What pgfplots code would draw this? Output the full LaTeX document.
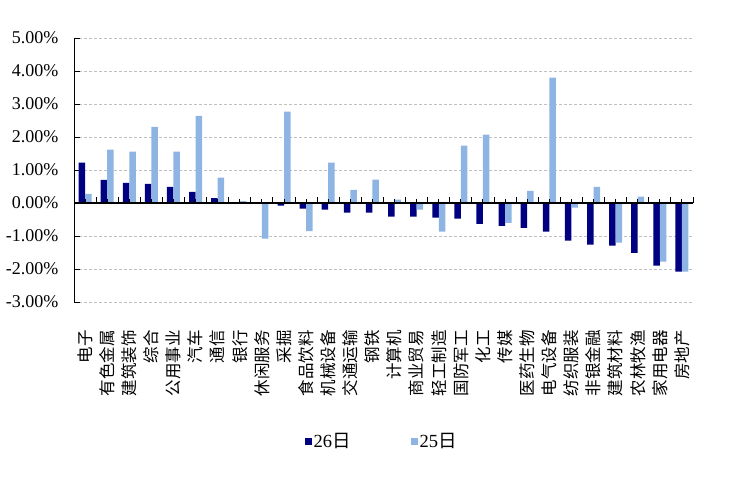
\documentclass[border=0pt]{standalone}
\usepackage{fontspec}
\setmainfont{Liberation Serif}
\newfontfamily\cjk{Noto Sans CJK SC}
\usepackage{pgfplots}
\usepackage{pgfplotstable}
\pgfplotsset{compat=1.18}
\definecolor{navy}{RGB}{0,0,128}
\definecolor{lblue}{RGB}{141,180,226}
\definecolor{gridgray}{RGB}{192,192,192}
\pgfplotstableread{
x d l
1 1.22 0.28
2 0.70 1.62
3 0.61 1.56
4 0.58 2.31
5 0.49 1.56
6 0.34 2.64
7 0.15 0.77
8 0.03 0.06
9 0.03 -1.08
10 -0.08 2.77
11 -0.17 -0.85
12 -0.20 1.22
13 -0.29 0.40
14 -0.29 0.71
15 -0.41 0.10
16 -0.41 -0.20
17 -0.44 -0.87
18 -0.47 1.74
19 -0.63 2.07
20 -0.69 -0.60
21 -0.75 0.37
22 -0.87 3.80
23 -1.14 -0.14
24 -1.26 0.49
25 -1.29 -1.20
26 -1.51 0.19
27 -1.90 -1.78
28 -2.08 -2.08
}\data
\begin{document}
\begin{tikzpicture}
\path[use as bounding box] (0,0) rectangle (735pt,480pt);
\begin{axis}[
  at={(74pt,178pt)}, anchor=south west,
  scale only axis, width=619pt, height=264pt,
  xmin=0.5, xmax=28.5, ymin=-3, ymax=5,
  axis x line=none,
  axis y line*=left,
  y axis line style={black, line width=1pt, -},
  ytick={-3,-2,-1,0,1,2,3,4,5},
  yticklabel={\pgfmathprintnumber[fixed,fixed zerofill,precision=2]{\tick}\%},
  /pgf/number format/assume math mode=true,
  yticklabel style={font=\fontsize{18}{18}\selectfont, xshift=-12pt},
  ytick style={black, line width=1pt},
  tick align=inside, major tick length=6pt,
  ymajorgrids,
  major grid style={gridgray, dash pattern=on 3pt off 2pt, line width=0.8pt},
  xtick=\empty,
  clip=false,
  unbounded coords=jump,
  legend columns=2,
  legend style={at={(0.497,-0.527)}, anchor=center, draw=none, fill=none,
    font=\fontsize{18.5}{18.5}\selectfont,
    /tikz/every even column/.append style={column sep=58pt},
    inner sep=0pt, row sep=0pt},
  legend cell align=left,
]
\addplot[ybar, bar width=6.5pt, bar shift=-3.25pt, fill=navy, draw=none,
  legend image code/.code={\fill[navy] (0pt,-3.5pt) rectangle (7pt,3.5pt);}]
  table[x=x,y=d]{\data};
\addlegendentry{26{\cjk 日}}
\addplot[ybar, bar width=6.5pt, bar shift=3.25pt, fill=lblue, draw=none,
  legend image code/.code={\fill[lblue] (0pt,-3.5pt) rectangle (7pt,3.5pt);}]
  table[x=x,y=l]{\data};
\addlegendentry{25{\cjk 日}}
\addplot[black, line width=1.5pt, forget plot] coordinates {(0.5,0) (28.5,0)};
\addplot[black, line width=1pt, mark=none, forget plot] coordinates {
(0.5,0)(0.5,0.18)(0.5,nan)(1.5,0)(1.5,0.18)(1.5,nan)(2.5,0)(2.5,0.18)(2.5,nan)(3.5,0)(3.5,0.18)(3.5,nan)
(4.5,0)(4.5,0.18)(4.5,nan)(5.5,0)(5.5,0.18)(5.5,nan)(6.5,0)(6.5,0.18)(6.5,nan)(7.5,0)(7.5,0.18)(7.5,nan)
(8.5,0)(8.5,0.18)(8.5,nan)(9.5,0)(9.5,0.18)(9.5,nan)(10.5,0)(10.5,0.18)(10.5,nan)(11.5,0)(11.5,0.18)(11.5,nan)
(12.5,0)(12.5,0.18)(12.5,nan)(13.5,0)(13.5,0.18)(13.5,nan)(14.5,0)(14.5,0.18)(14.5,nan)(15.5,0)(15.5,0.18)(15.5,nan)
(16.5,0)(16.5,0.18)(16.5,nan)(17.5,0)(17.5,0.18)(17.5,nan)(18.5,0)(18.5,0.18)(18.5,nan)(19.5,0)(19.5,0.18)(19.5,nan)
(20.5,0)(20.5,0.18)(20.5,nan)(21.5,0)(21.5,0.18)(21.5,nan)(22.5,0)(22.5,0.18)(22.5,nan)(23.5,0)(23.5,0.18)(23.5,nan)
(24.5,0)(24.5,0.18)(24.5,nan)(25.5,0)(25.5,0.18)(25.5,nan)(26.5,0)(26.5,0.18)(26.5,nan)(27.5,0)(27.5,0.18)(27.5,nan)
(28.5,0)(28.5,0.18)(28.5,nan)
(1,0)(1,0.12)(1,nan)(2,0)(2,0.12)(2,nan)(3,0)(3,0.12)(3,nan)(4,0)(4,0.12)(4,nan)(5,0)(5,0.12)(5,nan)
(6,0)(6,0.12)(6,nan)(7,0)(7,0.12)(7,nan)(8,0)(8,0.12)(8,nan)(9,0)(9,0.12)(9,nan)(10,0)(10,0.12)(10,nan)
(11,0)(11,0.12)(11,nan)(12,0)(12,0.12)(12,nan)(13,0)(13,0.12)(13,nan)(14,0)(14,0.12)(14,nan)(15,0)(15,0.12)(15,nan)
(16,0)(16,0.12)(16,nan)(17,0)(17,0.12)(17,nan)(18,0)(18,0.12)(18,nan)(19,0)(19,0.12)(19,nan)(20,0)(20,0.12)(20,nan)
(21,0)(21,0.12)(21,nan)(22,0)(22,0.12)(22,nan)(23,0)(23,0.12)(23,nan)(24,0)(24,0.12)(24,nan)(25,0)(25,0.12)(25,nan)
(26,0)(26,0.12)(26,nan)(27,0)(27,0.12)(27,nan)(28,0)(28,0.12)
};
\end{axis}
\begin{axis}[
  at={(74pt,178pt)}, anchor=south west,
  scale only axis, width=619pt, height=264pt,
  xmin=0.5, xmax=28.5, ymin=-3, ymax=5,
  hide y axis, axis x line*=bottom, x axis line style={draw=none},
  xtick={1,...,28}, major tick length=0pt,
  xticklabels={电子,有色金属,建筑装饰,综合,公用事业,汽车,通信,银行,休闲服务,采掘,食品饮料,机械设备,交通运输,钢铁,计算机,商业贸易,轻工制造,国防军工,化工,传媒,医药生物,电气设备,纺织服装,非银金融,建筑材料,农林牧渔,家用电器,房地产},
  xticklabel style={font=\cjk\fontsize{16.5}{16.5}\selectfont, rotate=90, anchor=east, inner sep=0pt},
  xticklabel shift=28pt,
]
\end{axis}
\end{tikzpicture}
\end{document}
